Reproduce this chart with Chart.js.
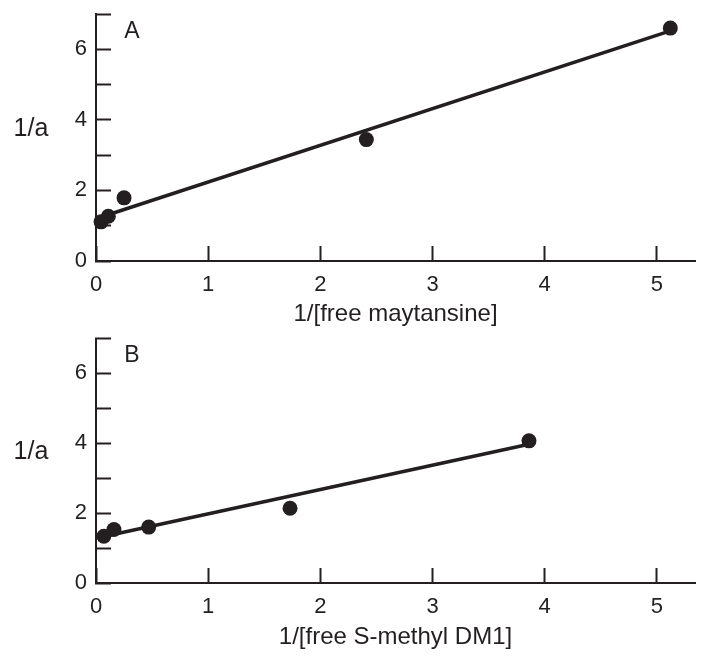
<!DOCTYPE html>
<html>
<head>
<script src="https://cdn.jsdelivr.net/npm/chart.js"></script>
<style>
  body { margin: 0; background: #fff; }
  .panel { position: absolute; left: 0; width: 709px; height: 331px; }
</style>
</head>

<body>
<div class="panel" style="top:0"><canvas id="chartA"></canvas></div>
<div class="panel" style="top:331px"><canvas id="chartB"></canvas></div>

<script>
  // labelled y ticks (other integer ticks are unlabelled)
  const yLabelled = [0, 2, 4, 6];

  // panel A: maytansine
  const maytX = [0.045, 0.11, 0.25, 2.41, 5.12];
  const maytY = [1.11, 1.27, 1.79, 3.44, 6.6];
  const maytFitX = [0.04, 5.12];
  const maytFitY = [1.24, 6.52];

  // panel B: S-methyl DM1
  const dm1X = [0.07, 0.16, 0.47, 1.73, 3.86];
  const dm1Y = [1.34, 1.53, 1.6, 2.14, 4.07];
  const dm1FitX = [0.07, 3.86];
  const dm1FitY = [1.33, 3.97];

  const ink = '#231f20';
  Chart.defaults.font.family = '"Liberation Sans", Arial, sans-serif';
  Chart.defaults.color = ink;

  // panel letter and horizontal "1/a" y label
  const panelText = {
    id: 'panelText',
    afterDraw(chart, args, opts) {
      const ctx = chart.ctx;
      const x = chart.scales.x, y = chart.scales.y;
      ctx.save();
      ctx.fillStyle = ink;
      ctx.textAlign = 'center';
      ctx.textBaseline = 'middle';
      ctx.font = '23px "Liberation Sans", Arial, sans-serif';
      ctx.fillText(opts.letter, x.getPixelForValue(0.32), y.getPixelForValue(6.5));
      ctx.font = '25px "Liberation Sans", Arial, sans-serif';
      ctx.fillText('1/a', 31, y.getPixelForValue(3.75));
      ctx.restore();
    }
  };

  function pts(xs, ys) {
    return xs.map((v, i) => ({x: v, y: ys[i]}));
  }

  function makeChart(id, letter, xTitle, px, py, fx, fy, padTop, axisHeight, titlePad) {
    return new Chart(document.getElementById(id), {
      type: 'scatter',
      data: {
        datasets: [{
          data: pts(px, py),
          pointRadius: 7.5,
          pointBackgroundColor: ink,
          pointBorderWidth: 0,
          clip: false
        }, {
          data: pts(fx, fy),
          showLine: true,
          borderColor: ink,
          borderWidth: 3.5,
          pointRadius: 0,
          clip: false
        }]
      },
      options: {
        responsive: true,
        maintainAspectRatio: false,
        animation: false,
        layout: { padding: { top: padTop, right: 14, left: 0, bottom: 0 } },
        plugins: {
          legend: { display: false },
          tooltip: { enabled: false },
          panelText: { letter: letter }
        },
        scales: {
          x: {
            type: 'linear', min: 0, max: 5.34,
            border: { color: ink, width: 2 },
            grid: { drawOnChartArea: false, tickLength: -15, tickColor: ink, tickWidth: 2 },
            ticks: { stepSize: 1, includeBounds: false, padding: 26, maxRotation: 0, font: { size: 22 } },
            title: { display: true, text: xTitle, font: { size: 24 }, padding: { top: 0, bottom: titlePad } },
            afterFit: s => { s.height = axisHeight; s.paddingLeft = 0; s.paddingRight = 0; }
          },
          y: {
            min: 0, max: 7,
            border: { color: ink, width: 2 },
            grid: { drawOnChartArea: false, tickLength: -15, tickColor: ink, tickWidth: 2 },
            ticks: {
              stepSize: 1, padding: 24, font: { size: 22 },
              callback: v => yLabelled.includes(v) ? String(v) : ''
            },
            afterFit: s => { s.width = 96; s.paddingTop = 0; s.paddingBottom = 0; }
          }
        }
      },
      plugins: [panelText]
    });
  }

  makeChart('chartA', 'A', '1/[free maytansine]', maytX, maytY, maytFitX, maytFitY, 14, 70, 2);
  makeChart('chartB', 'B', '1/[free S-methyl DM1]', dm1X, dm1Y, dm1FitX, dm1FitY, 5, 79, 10);
</script>
</body>
</html>
